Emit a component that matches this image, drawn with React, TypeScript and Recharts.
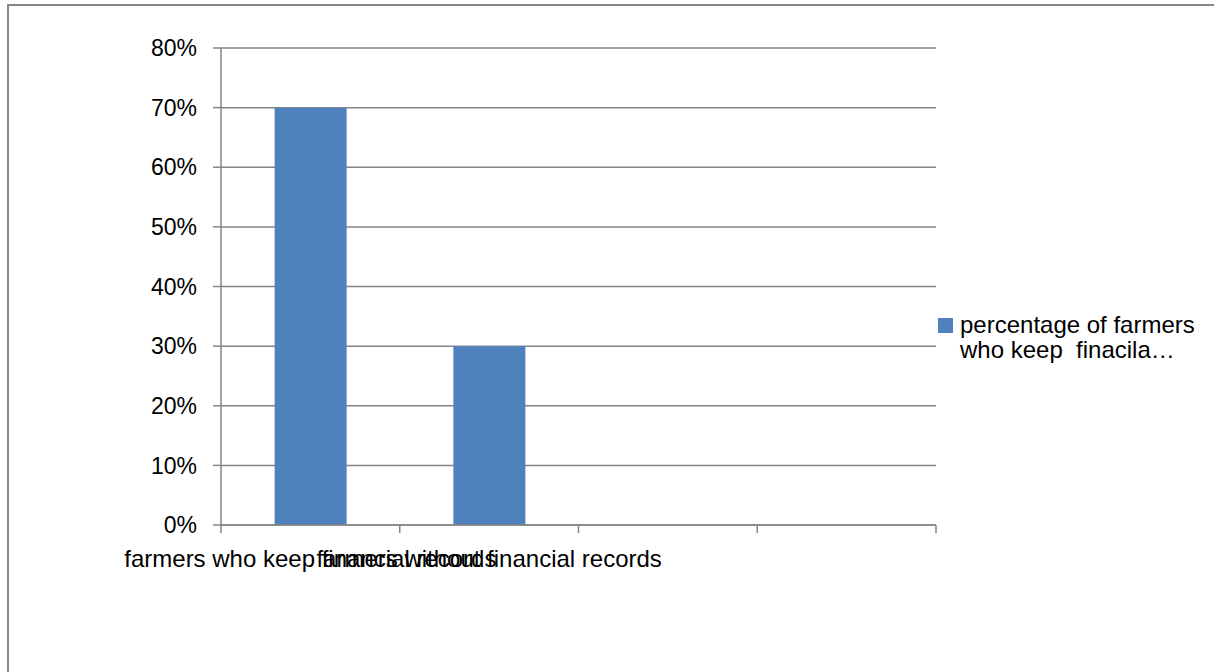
import React from 'react';
import { BarChart, Bar, XAxis, YAxis, CartesianGrid } from 'recharts';

// categories along the x axis (the last two slots are empty)
const categories = [
  'farmers who keep financial records',
  'farmers without financial records',
  '',
  '',
];
// percentage of farmers in each category
const shares = [70, 30, null, null];
const yTicks = [0, 10, 20, 30, 40, 50, 60, 70, 80];
const seriesName = 'percentage of farmers who keep  finacila records';
const legendLines = ['percentage of farmers', 'who keep  finacila…'];

const data = categories.map((name, i) => ({ name, value: shares[i] }));

const FONT = '"Liberation Sans", Arial, sans-serif';
const GRID = '#868686';
const BLUE = '#4f81bd';

// x tick: label under the band centre, tick marks on the band edges
const EdgeTick = (props: any) => {
  const { x, y, payload, index, visibleTicksCount } = props;
  const half = payload?.offset ?? 89.375;
  const isLast = index === visibleTicksCount - 1;
  return (
    <g>
      <line x1={x - half} x2={x - half} y1={y} y2={y + 8} stroke={GRID} strokeWidth={1.5} />
      {isLast && (
        <line x1={x + half} x2={x + half} y1={y} y2={y + 8} stroke={GRID} strokeWidth={1.5} />
      )}
      <text
        x={x}
        y={y + 25}
        dy="0.71em"
        textAnchor="middle"
        fill="#000"
        fontSize={24}
        fontFamily={FONT}
      >
        {payload.value}
      </text>
    </g>
  );
};

const App = () => {
  return (
    <div
      style={{
        position: 'absolute',
        left: 0,
        top: 0,
        width: 1214,
        height: 672,
        overflow: 'hidden',
        background: '#fff',
      }}
    >
      <div
        style={{
          position: 'absolute',
          left: 7,
          top: 4,
          width: 1300,
          height: 800,
          border: `2px solid ${GRID}`,
        }}
      />
      <div style={{ position: 'absolute', left: 0, top: 0 }}>
        <BarChart
          width={1214}
          height={672}
          data={data}
          margin={{ top: 48, right: 278, bottom: 107, left: 0 }}
          barCategoryGap="30%"
        >
          <CartesianGrid vertical={false} stroke={GRID} strokeWidth={1.5} />
          <XAxis
            dataKey="name"
            height={40}
            interval={0}
            tickLine={false}
            tickSize={0}
            tickMargin={0}
            axisLine={{ stroke: GRID, strokeWidth: 1.5 }}
            tick={<EdgeTick />}
          />
          <YAxis
            width={221}
            domain={[0, 80]}
            ticks={yTicks}
            tickFormatter={(v: number) => `${v}%`}
            tickSize={8}
            tickMargin={16}
            axisLine={{ stroke: GRID, strokeWidth: 1.5 }}
            tickLine={{ stroke: GRID, strokeWidth: 1.5 }}
            tick={{ fill: '#000', fontSize: 23, fontFamily: FONT }}
          />
          <Bar dataKey="value" name={seriesName} fill={BLUE} isAnimationActive={false} />
        </BarChart>
      </div>
      <div
        style={{
          position: 'absolute',
          left: 938,
          top: 312,
          fontFamily: FONT,
          fontSize: 24,
          lineHeight: '25px',
          color: '#000',
        }}
      >
        <div
          style={{
            position: 'absolute',
            left: 0,
            top: 6,
            width: 15,
            height: 15,
            background: BLUE,
          }}
        />
        <div style={{ marginLeft: 22, whiteSpace: 'pre' }}>
          {legendLines.map((line) => (
            <div key={line}>{line}</div>
          ))}
        </div>
      </div>
    </div>
  );
};

export default App;
